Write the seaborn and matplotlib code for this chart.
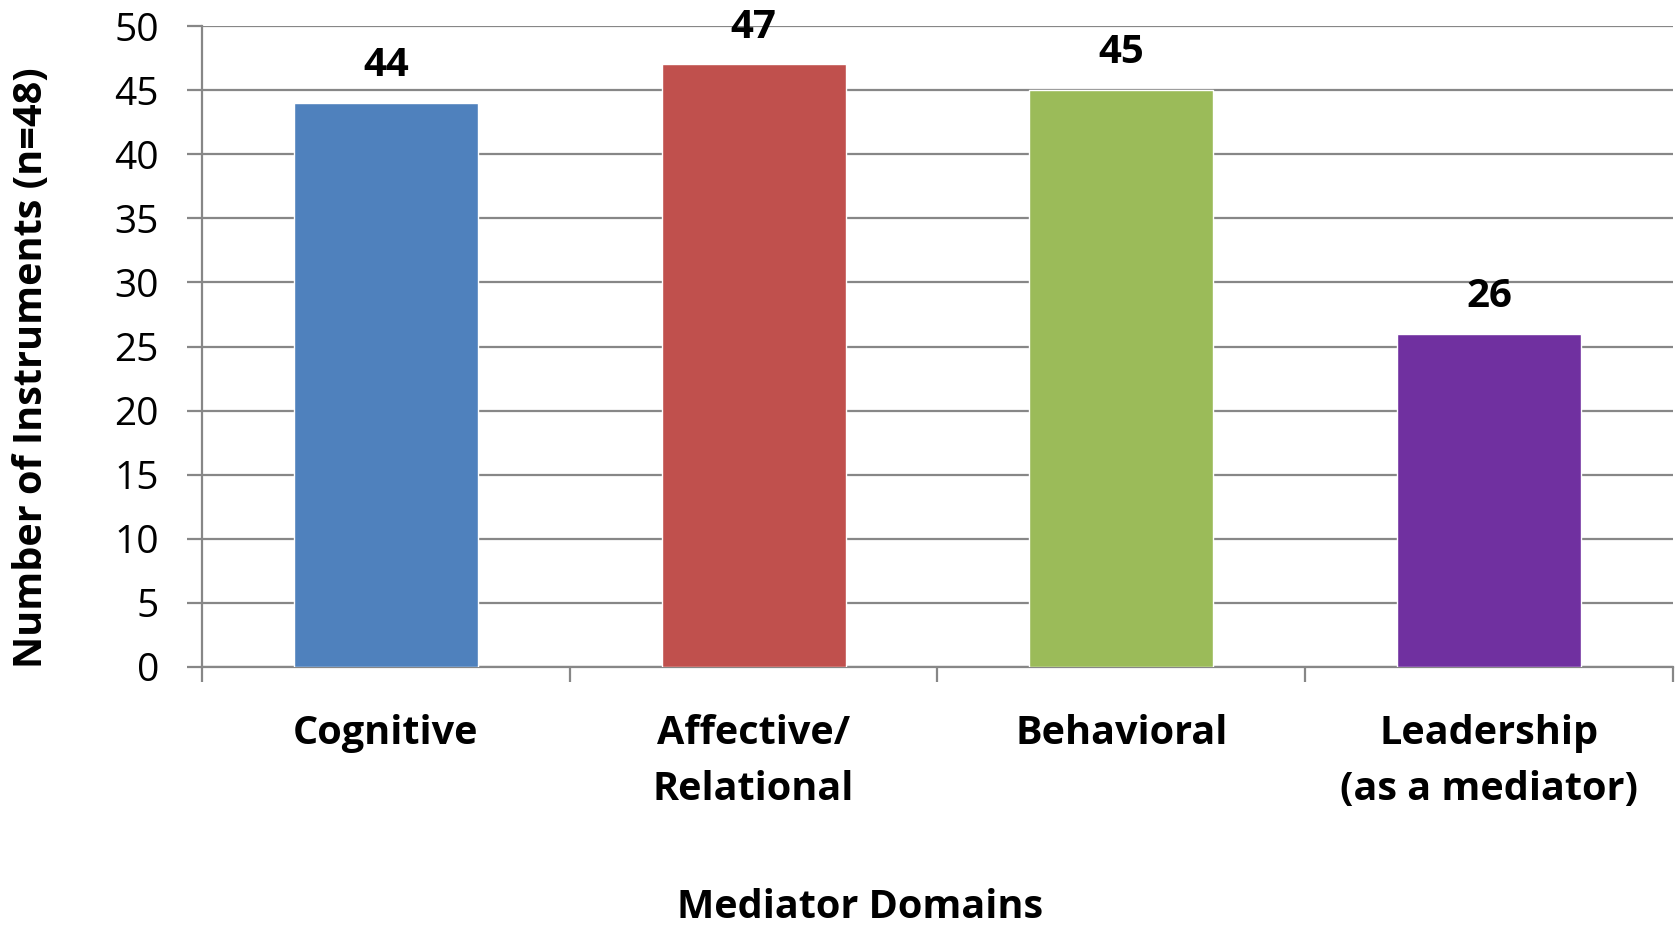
import matplotlib
matplotlib.use("Agg")
import matplotlib.pyplot as plt
import seaborn as sns
import pandas as pd
from matplotlib.ticker import FixedLocator

categories = ["Cognitive", "Affective/\nRelational", "Behavioral", "Leadership\n(as a mediator)"]
values = [44, 47, 45, 26]
colors = ["#4F81BD", "#C0504D", "#9BBB59", "#7030A0"]
y_ticks = [0, 5, 10, 15, 20, 25, 30, 35, 40, 45, 50]

sns.set_theme(style="white")
plt.rcParams['font.family'] = ['Open Sans', 'DejaVu Sans']
plt.rcParams['text.color'] = 'black'

df = pd.DataFrame({"domain": categories, "count": values})

fig = plt.figure(figsize=(16.75, 9.26), dpi=100)
ax = fig.add_axes([0.1206, 0.2797, 0.8782, 0.6922])

sns.barplot(data=df, x="domain", y="count", hue="domain", palette=colors,
            width=0.5, saturation=1, legend=False, ax=ax, zorder=3)

grid_c = "#878787"
ax.set_ylim(0, 50)
ax.set_xlim(-0.5, len(categories) - 0.5)
ax.yaxis.set_major_locator(FixedLocator(y_ticks))
ax.yaxis.grid(True, color=grid_c, linewidth=1.6, zorder=0)
ax.set_axisbelow(True)
for s in ["top", "right"]:
    ax.spines[s].set_visible(False)
for s in ["left", "bottom"]:
    ax.spines[s].set_color(grid_c)
    ax.spines[s].set_linewidth(1.6)

ax.tick_params(axis="y", which="major", length=11, width=1.6, color=grid_c,
               labelsize=28, pad=20, labelcolor="black", left=True)
ax.tick_params(axis="x", which="major", length=0, labelsize=28.5, pad=34, labelcolor="black")
ax.xaxis.set_minor_locator(FixedLocator([i - 0.5 for i in range(len(categories) + 1)]))
ax.tick_params(axis="x", which="minor", length=11, width=1.6, color=grid_c, bottom=True)
for lbl in ax.get_xticklabels():
    lbl.set_fontweight("bold")
    lbl.set_linespacing(1.55)
    lbl.set_verticalalignment("top")

for i, v in enumerate(values):
    ax.text(i, v + 1.4, str(v), ha="center", va="bottom", fontsize=29, fontweight="bold")

ax.set_xlabel("")
ax.set_ylabel("")
fig.text(0.5135, 0.009, "Mediator Domains", ha="center", va="baseline", fontsize=28.5, fontweight="bold")
fig.text(0.019, 0.603, "Number of Instruments (n=48)", ha="center", va="center", rotation=90,
         fontsize=28.5, fontweight="bold")

fig.savefig("out.png", dpi=100)
